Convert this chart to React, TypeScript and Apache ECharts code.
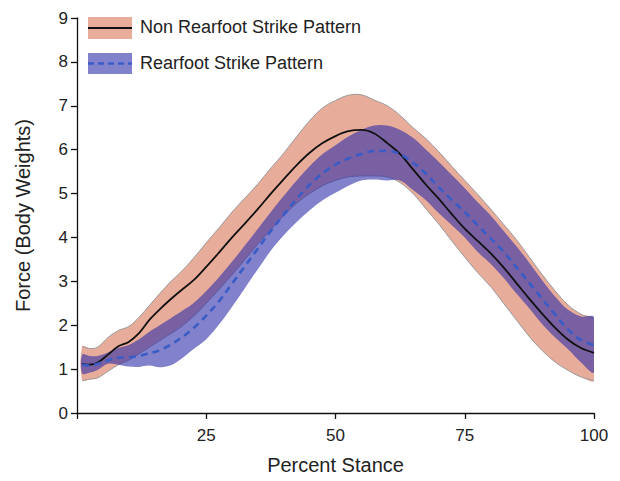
import React, { useEffect, useRef } from "react";
import * as echarts from "echarts";

const percentStance = [1, 2.5, 4, 6, 8, 10, 12, 14, 16, 18, 20, 22.5, 25, 27.5, 30, 32.5, 35, 37.5, 40, 42.5, 45, 47.5, 50, 52.5, 55, 57.5, 60, 62.5, 65, 67.5, 70, 72.5, 75, 77.5, 80, 82.5, 85, 87.5, 90, 92.5, 95, 97.5, 100];

const nonRfsMean = [1.12, 1.1, 1.15, 1.33, 1.52, 1.62, 1.82, 2.12, 2.36, 2.58, 2.78, 3.02, 3.33, 3.66, 4.0, 4.32, 4.65, 5.0, 5.33, 5.65, 5.93, 6.15, 6.31, 6.42, 6.45, 6.37, 6.15, 5.9, 5.55, 5.2, 4.88, 4.53, 4.2, 3.92, 3.64, 3.32, 2.96, 2.6, 2.26, 1.94, 1.67, 1.48, 1.37];
const nonRfsUpper = [1.52, 1.47, 1.5, 1.72, 1.88, 1.97, 2.18, 2.45, 2.72, 2.98, 3.2, 3.52, 3.88, 4.22, 4.58, 4.9, 5.22, 5.58, 5.92, 6.3, 6.66, 6.95, 7.12, 7.24, 7.25, 7.13, 7.0, 6.78, 6.5, 6.25, 5.95, 5.62, 5.3, 4.98, 4.65, 4.3, 3.95, 3.55, 3.15, 2.78, 2.46, 2.25, 2.15];
const nonRfsLower = [0.74, 0.77, 0.8, 0.95, 1.1, 1.2, 1.35, 1.5, 1.65, 1.8, 1.95, 2.2, 2.5, 2.82, 3.15, 3.5, 3.85, 4.18, 4.5, 4.78, 5.0, 5.18, 5.3, 5.38, 5.4, 5.4, 5.38, 5.25, 5.0, 4.65, 4.3, 3.92, 3.55, 3.2, 2.88, 2.5, 2.12, 1.74, 1.42, 1.16, 0.97, 0.82, 0.74];

const rfsMean = [1.1, 1.08, 1.12, 1.2, 1.26, 1.27, 1.3, 1.36, 1.43, 1.55, 1.7, 1.93, 2.22, 2.55, 2.95, 3.35, 3.75, 4.15, 4.52, 4.88, 5.2, 5.46, 5.66, 5.8, 5.9, 5.97, 5.97, 5.9, 5.7, 5.45, 5.14, 4.85, 4.58, 4.28, 3.98, 3.68, 3.32, 2.96, 2.6, 2.24, 1.9, 1.66, 1.55];
const rfsUpper = [1.33, 1.3, 1.3, 1.38, 1.48, 1.55, 1.68, 1.85, 2.0, 2.15, 2.3, 2.5, 2.78, 3.1, 3.45, 3.82, 4.2, 4.58, 4.95, 5.3, 5.62, 5.9, 6.1, 6.3, 6.45, 6.55, 6.55, 6.45, 6.27, 6.0, 5.72, 5.42, 5.12, 4.8, 4.5, 4.15, 3.8, 3.42, 3.02, 2.65, 2.35, 2.2, 2.18];
const rfsLower = [0.9, 0.92, 0.98, 1.12, 1.1, 1.06, 1.05, 1.08, 1.04, 1.08, 1.22, 1.45, 1.68, 2.02, 2.42, 2.85, 3.28, 3.7, 4.05, 4.35, 4.62, 4.85, 5.02, 5.18, 5.3, 5.32, 5.3, 5.3, 5.08, 4.85, 4.55, 4.28, 4.0, 3.67, 3.4, 3.08, 2.72, 2.38, 2.02, 1.72, 1.45, 1.15, 0.93];

const yTicks = [0, 1, 2, 3, 4, 5, 6, 7, 8, 9];
const xTicks = [25, 50, 75, 100];

const SALMON = "rgb(232,172,154)";
const BLUE_FILL = "rgba(45,45,170,0.6)";
const DASH_BLUE = "#3a5cc6";
const FONT = "Liberation Sans, Arial, sans-serif";
const SMOOTH = 0.35;

const pairs = (ys: number[]) => percentStance.map((x, i) => [x, ys[i]]);
const bandData = (lo: number[], hi: number[]) => percentStance.map((x, i) => [x, lo[i], hi[i]]);

function bandSeries(name: string, lo: number[], hi: number[], fill: string, edge: string | null, z: number) {
  return {
    name,
    type: "custom",
    data: bandData(lo, hi),
    encode: { x: 0, y: [1, 2] },
    z,
    clip: true,
    renderItem: (params: any, api: any) => {
      if (params.dataIndex !== 0) return null;
      const up = percentStance.map((x, i) => api.coord([x, hi[i]]));
      const down = percentStance.map((x, i) => api.coord([x, lo[i]]));
      const children: any[] = [
        {
          type: "polygon",
          shape: { points: up.concat(down.slice().reverse()), smooth: SMOOTH },
          style: { fill, stroke: "none" },
        },
      ];
      if (edge) {
        children.push(
          { type: "polyline", shape: { points: up, smooth: SMOOTH }, style: { fill: "none", stroke: edge, lineWidth: 1 } },
          { type: "polyline", shape: { points: down, smooth: SMOOTH }, style: { fill: "none", stroke: edge, lineWidth: 1 } }
        );
      }
      return { type: "group", children };
    },
  };
}

export default function App() {
  const ref = useRef<HTMLDivElement>(null);
  useEffect(() => {
    if (!ref.current) return;
    const chart = echarts.init(ref.current, undefined, { renderer: "svg" });
    chart.setOption({
      animation: false,
      grid: { left: 77, right: 26, top: 18, bottom: 68, containLabel: false },
      xAxis: {
        type: "value",
        min: 0,
        max: 100,
        interval: 25,
        name: "Percent Stance",
        nameLocation: "middle",
        nameGap: 42,
        nameTextStyle: { fontSize: 20, color: "#222", fontFamily: FONT },
        axisLine: { show: true, lineStyle: { color: "#111", width: 1.3 } },
        axisTick: { show: true, length: 6, lineStyle: { color: "#111", width: 1.3 } },
        axisLabel: {
          fontSize: 17,
          color: "#222",
          fontFamily: FONT,
          margin: 14,
          formatter: (v: number) => (xTicks.includes(v) ? String(v) : ""),
        },
        splitLine: { show: false },
      },
      yAxis: {
        type: "value",
        min: 0,
        max: 9,
        interval: 1,
        name: "Force (Body Weights)",
        nameLocation: "middle",
        nameGap: 44,
        nameTextStyle: { fontSize: 20, color: "#222", fontFamily: FONT },
        axisLine: { show: true, lineStyle: { color: "#111", width: 1.3 } },
        axisTick: { show: true, length: 6, lineStyle: { color: "#111", width: 1.3 } },
        axisLabel: {
          fontSize: 17,
          color: "#222",
          fontFamily: FONT,
          margin: 9,
          formatter: (v: number) => (yTicks.includes(v) ? String(v) : ""),
        },
        splitLine: { show: false },
      },
      series: [
        bandSeries("Non Rearfoot band", nonRfsLower, nonRfsUpper, SALMON, "#9a9a9a", 1),
        bandSeries("Rearfoot band", rfsLower, rfsUpper, BLUE_FILL, null, 2),
        {
          name: "Non Rearfoot Strike Pattern",
          type: "line",
          data: pairs(nonRfsMean),
          symbol: "none",
          smooth: SMOOTH,
          lineStyle: { color: "#111", width: 1.8 },
          z: 3,
        },
        {
          name: "Rearfoot Strike Pattern",
          type: "line",
          data: pairs(rfsMean),
          symbol: "none",
          smooth: SMOOTH,
          lineStyle: { color: DASH_BLUE, width: 2.6, type: [7, 5] },
          z: 4,
        },
      ],
      graphic: [
        { type: "rect", z: 100, left: 88, top: 17, shape: { width: 44, height: 22 }, style: { fill: SALMON } },
        { type: "line", z: 101, shape: { x1: 88, y1: 28, x2: 132, y2: 28 }, style: { stroke: "#111", lineWidth: 2 } },
        { type: "text", z: 101, left: 140, top: 18, style: { text: "Non Rearfoot Strike Pattern", fontSize: 18, fill: "#222", fontFamily: FONT } },
        { type: "rect", z: 100, left: 88, top: 53, shape: { width: 44, height: 21 }, style: { fill: BLUE_FILL } },
        { type: "line", z: 101, shape: { x1: 88, y1: 63.5, x2: 132, y2: 63.5 }, style: { stroke: DASH_BLUE, lineWidth: 2.4, lineDash: [6, 4] } },
        { type: "text", z: 101, left: 140, top: 54, style: { text: "Rearfoot Strike Pattern", fontSize: 18, fill: "#222", fontFamily: FONT } },
      ],
    });
    return () => chart.dispose();
  }, []);
  return <div ref={ref} style={{ position: "absolute", left: 0, top: 0, width: 620, height: 481 }} />;
}
